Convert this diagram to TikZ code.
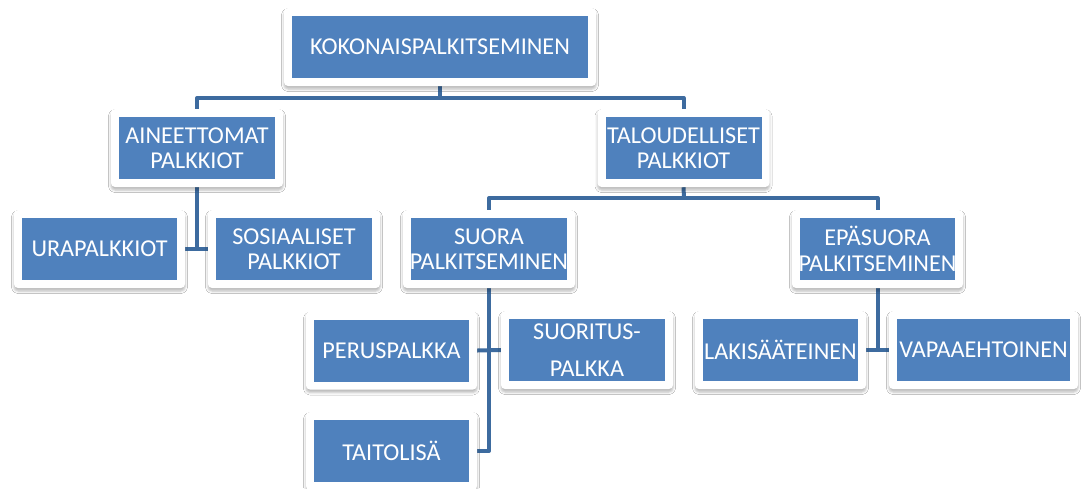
\documentclass[tikz,border=0pt]{standalone}
\usepackage{fontspec}
\setmainfont{Carlito}
\usetikzlibrary{shadows.blur,backgrounds}
\definecolor{boxblue}{HTML}{4F81BD}
\definecolor{linkblue}{HTML}{3D6B9F}
% one centred line of a card; wider text overflows evenly on both sides
\newcommand{\cardline}[1]{\makebox[120pt]{#1}}
\tikzset{
  card/.style={rectangle, fill=white, rounded corners=4pt, inner sep=0pt,
    minimum width=172pt, minimum height=78pt,
    text=white, align=center, font=\fontsize{24.2}{25.5}\selectfont,
    blur shadow={shadow xshift=0pt, shadow yshift=-3pt,
      shadow blur radius=2.5pt, shadow opacity=28},
    path picture={\fill[boxblue, sharp corners]
      ([xshift=8pt,yshift=8pt]path picture bounding box.south west) rectangle
      ([xshift=-8pt,yshift=-8pt]path picture bounding box.north east);}},
  link/.style={draw=linkblue, line width=4pt, line join=round}
}
\begin{document}
\begin{tikzpicture}[x=1pt,y=-1pt]
  \useasboundingbox (0,0) rectangle (1084,488);

  % level 0
  \node[card, minimum width=312pt] (root) at (440,47) {\cardline{KOKONAISPALKITSEMINEN}};
  % level 1
  \node[card] (ain) at (197,148) {\cardline{AINEETTOMAT}\\\cardline{PALKKIOT}};
  \node[card] (tal) at (683.5,148) {\cardline{TALOUDELLISET}\\\cardline{PALKKIOT}};
  % level 2
  \node[card, minimum width=171pt] (ura) at (99.5,249) {\cardline{URAPALKKIOT}};
  \node[card] (sos) at (294,249) {\cardline{SOSIAALISET}\\\cardline{PALKKIOT}};
  \node[card] (suora) at (489,249) {\cardline{SUORA}\\\cardline{PALKITSEMINEN}};
  \node[card, minimum width=171pt] (epa) at (877.5,249) {\cardline{EPÄSUORA}\\\cardline{PALKITSEMINEN}};
  % level 3
  \node[card, minimum width=171pt] (perus) at (391.5,350.5) {\cardline{PERUSPALKKA}};
  \node[card] (suor) at (587,350) {\cardline{SUORITUS-}\\[11.5pt]\cardline{PALKKA}};
  \node[card, minimum width=171pt] (taito) at (391.5,451) {\cardline{TAITOLISÄ}};
  \node[card, minimum width=171pt] (laki) at (780.5,350) {\cardline{LAKISÄÄTEINEN}};
  \node[card, minimum width=189pt] (vapa) at (983.5,350) {\cardline{VAPAAEHTOINEN}};

  \coordinate (busA) at (440,98);
  \coordinate (busB) at (684,198);

  \begin{pgfonlayer}{background}
    \fill[white] (0,0) rectangle (1084,488);
    \draw[link] (root.south) -- (busA);
    \draw[link] (ain.north) |- (busA) -| (tal.north);
    \draw[link] (ain.south) -- (ain.south |- ura.east);
    \draw[link] (ura.east) -- (sos.west);
    \draw[link] (tal.south) -- (busB);
    \draw[link] (suora.north) |- (busB) -| (epa.north);
    \draw[link] (suora.south) |- (taito.east);
    \draw[link] (perus.east) -- (suor.west);
    \draw[link] (epa.south) -- (epa.south |- laki.east);
    \draw[link] (laki.east) -- (vapa.west);
  \end{pgfonlayer}
\end{tikzpicture}
\end{document}
